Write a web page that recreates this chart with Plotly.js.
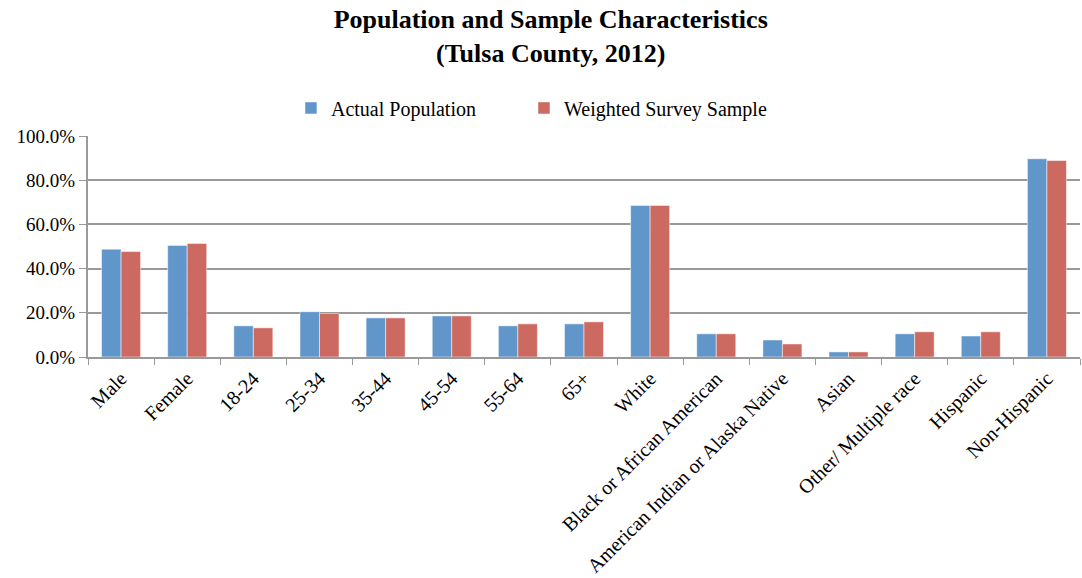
<!DOCTYPE html>
<html>
<head>
<meta charset="utf-8">
<script src="https://cdn.plot.ly/plotly-3.0.1.min.js"></script>
<style>html,body{margin:0;padding:0;background:#fff;}#chart{width:1082px;height:578px;}</style>
</head>
<body>
<div id="chart"></div>
<script>
const categories = ["Male","Female","18-24","25-34","35-44","45-54","55-64","65+","White","Black or African American","American Indian or Alaska Native","Asian","Other/ Multiple race","Hispanic","Non-Hispanic"];
const actualPopulation = [48.8, 50.5, 14.1, 20.5, 17.7, 18.6, 14.1, 15.0, 68.6, 10.5, 7.7, 2.3, 10.5, 9.5, 89.7];
const weightedSample = [47.7, 51.4, 13.2, 19.7, 17.7, 18.6, 15.0, 15.9, 68.6, 10.5, 5.9, 2.3, 11.4, 11.4, 88.9];

const font = "Liberation Serif, Times New Roman, serif";
const traces = [
  {type:"bar", name:"Actual Population", x:categories, y:actualPopulation, legend:"legend",
   marker:{color:"#6196CB", line:{color:"#ffffff", width:0.5}}},
  {type:"bar", name:"Weighted Survey Sample", x:categories, y:weightedSample, legend:"legend2",
   marker:{color:"#CC6960", line:{color:"#ffffff", width:0.5}}}
];
const legendStyle = {orientation:"h", xanchor:"left", y:1.127, yanchor:"middle",
  font:{family:font, size:20}, itemwidth:30, bgcolor:"rgba(0,0,0,0)"};
const layout = {
  width:1082, height:578,
  margin:{l:88, r:2, t:136, b:221},
  paper_bgcolor:"#fff", plot_bgcolor:"#fff",
  font:{family:font, color:"#000", size:19},
  title:{text:"<b>Population and Sample Characteristics</b><br><b>(Tulsa County, 2012)</b>",
         font:{family:font, size:26, color:"#000"}, x:0.509, xref:"container", xanchor:"center",
         y:0.951, yref:"container", yanchor:"middle"},
  barmode:"group", bargap:0.41, bargroupgap:0,
  showlegend:true,
  legend:Object.assign({x:0.2046}, legendStyle),
  legend2:Object.assign({x:0.4395}, legendStyle),
  xaxis:{type:"category", tickangle:-45, tickson:"boundaries", ticks:"outside", ticklen:6,
         tickcolor:"#999", showline:true, linecolor:"#999", linewidth:2,
         tickfont:{family:font, size:20}, showgrid:false},
  yaxis:{range:[0,100], dtick:20, tickformat:".1f", ticksuffix:"%", ticks:"outside", ticklen:7,
         tickcolor:"#999", showline:true, linecolor:"#999", linewidth:2,
         gridcolor:"#999", gridwidth:2, zeroline:false, tickfont:{family:font, size:19}}
};
Plotly.newPlot("chart", traces, layout, {displayModeBar:false, staticPlot:true});
</script>
</body>
</html>
